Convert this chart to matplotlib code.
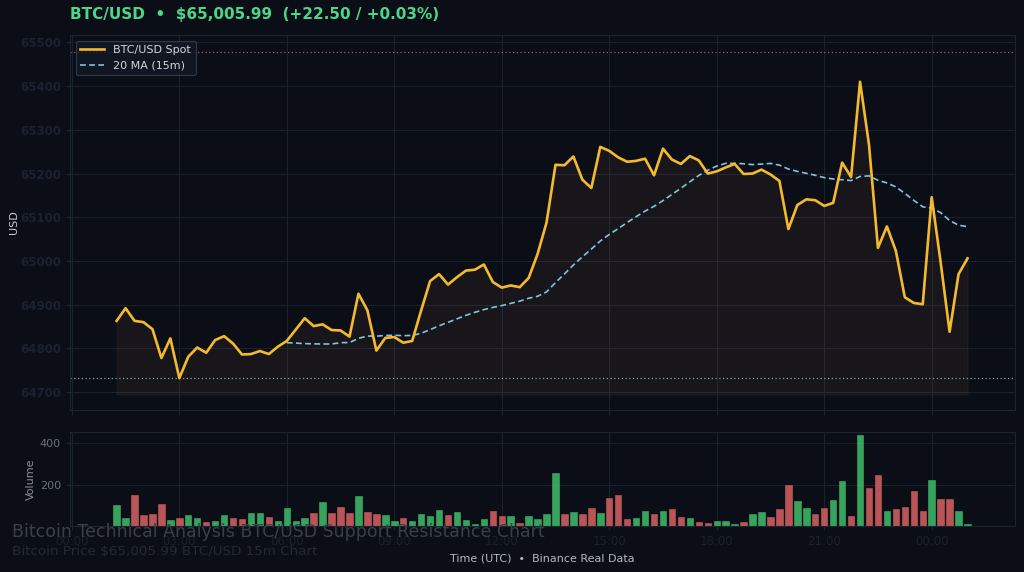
import numpy as np
import pandas as pd
import matplotlib
matplotlib.use("Agg")
import matplotlib.pyplot as plt
import matplotlib.dates as mdates

# Data (15m candles, close price and volume)
price = [64863, 64892, 64863, 64860, 64844, 64778, 64823, 64732, 64781, 64802,
         64790, 64819, 64828, 64811, 64786, 64787, 64794, 64787, 64804, 64817,
         64843, 64869, 64851, 64855, 64842, 64841, 64827, 64925, 64887, 64795,
         64824, 64826, 64813, 64817, 64887, 64954, 64970, 64946, 64963, 64978,
         64980, 64992, 64952, 64939, 64944, 64940, 64961, 65016, 65088, 65220,
         65219, 65239, 65186, 65167, 65261, 65252, 65237, 65227, 65229, 65234,
         65196, 65257, 65232, 65222, 65240, 65230, 65200, 65205, 65214, 65222,
         65199, 65200, 65209, 65198, 65183, 65073, 65128, 65141, 65139, 65126,
         65133, 65225, 65192, 65410, 65266, 65030, 65079, 65023, 64917, 64904,
         64901, 65146, 64997, 64838, 64970, 65006]

volume = [101, 38, 150, 52, 56, 108, 31, 38, 52, 38,
          20, 26, 52, 38, 33, 62, 62, 44, 24, 87,
          24, 38, 62, 114, 62, 93, 65, 144, 69, 59,
          52, 24, 38, 26, 56, 47, 77, 52, 69, 29,
          10, 36, 72, 49, 47, 15, 47, 34, 56, 255,
          59, 69, 59, 87, 62, 137, 150, 36, 39, 73,
          59, 73, 80, 44, 41, 21, 16, 23, 23, 8,
          20, 56, 69, 46, 83, 198, 122, 87, 56, 87,
          127, 219, 49, 439, 186, 245, 73, 83, 91, 171,
          75, 222, 131, 131, 73, 8]

resistance = 65479
support = 64732
fill_base = 64695
vol_ticks = [200, 400]

times = pd.date_range("2024-05-01 01:15", periods=len(price), freq="15min")
x = mdates.date2num(times)
ma20 = pd.Series(price).rolling(20).mean()
step = 15 / 1440

BG = "#0b0e16"
GRID = "#1b2230"
SPINE = "#1d2431"
DARK_TXT = "#1b2130"
GREEN = "#3fbf6c"
RED = "#d96262"

colors = [GREEN]
for i in range(1, len(price)):
    colors.append(GREEN if price[i] >= price[i - 1] else RED)

fig = plt.figure(figsize=(10.24, 5.72), dpi=100, facecolor=BG)
ax = fig.add_axes([0.0684, 0.2832, 0.9228, 0.6556], facecolor=BG)
axv = fig.add_axes([0.0684, 0.0804, 0.9228, 0.1644], facecolor=BG, sharex=ax)

# price panel
ax.fill_between(x, price, fill_base, color="#d08a5a", alpha=0.07)
ax.plot(x, price, color="#f3ba2f", lw=1.9, label="BTC/USD Spot", zorder=4)
ax.plot(x, ma20, color="#7ec4dc", lw=1.2, ls=(0, (3.5, 2)), label="20 MA (15m)", zorder=3)
ax.axhline(resistance, color="#d9808a", lw=0.9, ls=(0, (1, 2)), alpha=0.7)
ax.axhline(support, color="#8fd6a8", lw=0.9, ls=(0, (1, 2)), alpha=0.8)
ax.set_ylim(64659, 65517)
ax.set_xlim(x[0] - 5.2 * step, x[-1] + 5.3 * step)
ax.set_yticks([64700, 64800, 64900, 65000, 65100, 65200, 65300, 65400, 65500])
ax.set_ylabel("USD", color="#c9cdd4", fontsize=8, labelpad=1)
ax.tick_params(axis="x", labelbottom=False, colors=SPINE)
ax.tick_params(axis="y", colors=SPINE, labelcolor=DARK_TXT, labelsize=8.5, length=3)
for lab in ax.get_yticklabels():
    lab.set_fontweight("bold")

leg = ax.legend(loc="upper left", fontsize=8, frameon=True, facecolor="#131a26",
                edgecolor="#3a4455", labelcolor="#d2d6dc", borderpad=0.4,
                handlelength=2.2, bbox_to_anchor=(0.0, 1.0))
leg.get_frame().set_linewidth(0.8)

# volume panel
axv.bar(x, volume, width=0.72 * step, color=colors, alpha=0.85,
        edgecolor=colors, linewidth=0.4)
axv.set_ylim(0, 455)
axv.set_yticks(vol_ticks)
axv.set_ylabel("Volume", color="#8b9099", fontsize=8, labelpad=3)
axv.tick_params(axis="y", colors=SPINE, labelcolor="#6b717c", labelsize=8, length=3)
axv.tick_params(axis="x", colors=SPINE, labelcolor=DARK_TXT, labelsize=8.5, length=3)
axv.xaxis.set_major_locator(mdates.HourLocator(interval=3))
axv.xaxis.set_major_formatter(mdates.DateFormatter("%H:%M"))
axv.set_xlabel("Time (UTC)  \u2022  Binance Real Data", color="#b3b8c1", fontsize=8, labelpad=4)

for a in (ax, axv):
    a.grid(True, color=GRID, lw=0.7)
    a.set_axisbelow(True)
    for s in a.spines.values():
        s.set_color(SPINE)
        s.set_linewidth(0.8)

fig.text(0.0684, 0.974, "BTC/USD  \u2022  $65,005.99  (+22.50 / +0.03%)",
         color="#4bd68a", fontsize=11, fontweight="bold", va="center", ha="left")
fig.text(0.012, 0.07, "Bitcoin Technical Analysis BTC/USD Support Resistance Chart",
         color="#3a3f4a", fontsize=12.5, va="center", ha="left")
fig.text(0.012, 0.035, "Bitcoin Price $65,005.99 BTC/USD 15m Chart",
         color="#252a35", fontsize=9.7, va="center", ha="left")

fig.savefig("out.png", dpi=100, facecolor=BG)
